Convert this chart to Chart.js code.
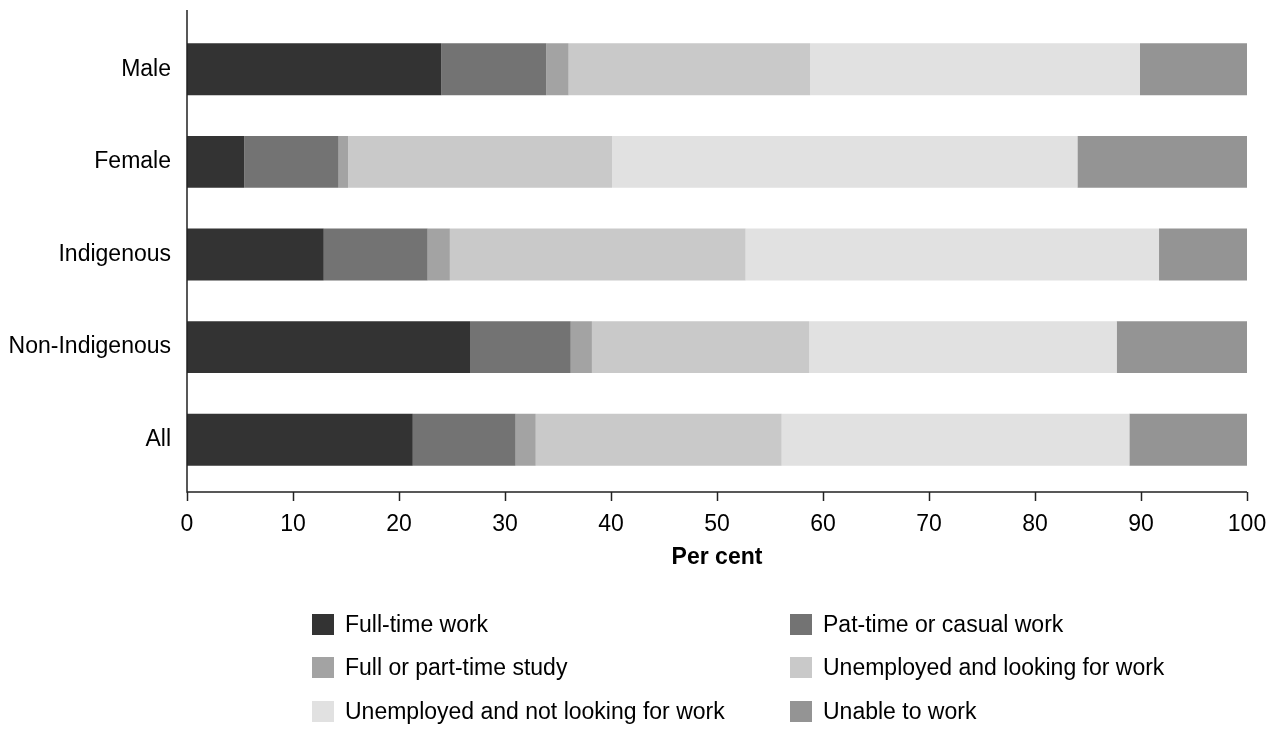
<!DOCTYPE html>
<html>
<head>
<meta charset="utf-8">
<script src="https://cdn.jsdelivr.net/npm/chart.js@4"></script>
<style>
  html, body { margin: 0; padding: 0; background: #fff; }
  #wrap { position: relative; width: 1267px; height: 729px; }
  #legend { position: absolute; left: 0; top: 0; width: 100%; height: 100%; pointer-events: none;
            font-family: "Liberation Sans", Arial, sans-serif; font-size: 23px; color: #000; }
  .item { position: absolute; height: 22px; line-height: 22px; white-space: nowrap; }
  .item .box { position: absolute; left: 0; top: 0; width: 22px; height: 21px; }
  .item .txt { position: absolute; left: 33px; top: -1px; }
</style>
</head>
<body>
<div id="wrap">
  <canvas id="chart" width="1267" height="729"></canvas>
  <div id="legend"></div>
</div>
<script>
// ---- data ----
const groups = ["Male", "Female", "Indigenous", "Non-Indigenous", "All"];

const fullTime      = [24.0,  5.4, 12.9, 26.7, 21.3];
const partTime      = [ 9.9,  8.9,  9.8,  9.5,  9.7];
const study         = [ 2.1,  0.9,  2.1,  2.0,  1.9];
const unempLooking  = [22.8, 24.9, 27.9, 20.5, 23.2];
const unempNotLook  = [31.1, 43.9, 39.0, 29.0, 32.8];
const unableToWork  = [10.1, 16.0,  8.3, 12.3, 11.1];

const xTicks = [0, 10, 20, 30, 40, 50, 60, 70, 80, 90, 100];

const FONT = "'Liberation Sans', Arial, sans-serif";

// axis lines drawn a bit outside the plot box, like the original
const axisLinesPlugin = {
  id: "axisLines",
  afterDraw(chart) {
    const { ctx, chartArea, scales } = chart;
    const x = scales.x;
    const yBase = chartArea.bottom + 6;
    ctx.save();
    ctx.strokeStyle = "#222";
    ctx.lineWidth = 1.5;
    ctx.beginPath();
    ctx.moveTo(chartArea.left, chartArea.top - 13);
    ctx.lineTo(chartArea.left, yBase);
    ctx.lineTo(chartArea.right, yBase);
    ctx.stroke();
    xTicks.forEach(v => {
      const px = Math.round(x.getPixelForValue(v)) + 0.5;
      ctx.beginPath();
      ctx.moveTo(px, yBase);
      ctx.lineTo(px, yBase + 9);
      ctx.stroke();
    });
    ctx.restore();
  }
};

const series = [
  { label: "Full-time work", data: fullTime, color: "#333333" },
  { label: "Pat-time or casual work", data: partTime, color: "#737373" },
  { label: "Full or part-time study", data: study, color: "#a3a3a3" },
  { label: "Unemployed and looking for work", data: unempLooking, color: "#c9c9c9" },
  { label: "Unemployed and not looking for work", data: unempNotLook, color: "#e1e1e1" },
  { label: "Unable to work", data: unableToWork, color: "#949494" }
];

const chart = new Chart(document.getElementById("chart").getContext("2d"), {
  type: "bar",
  data: {
    labels: groups,
    datasets: series.map(s => ({
      label: s.label,
      data: s.data,
      backgroundColor: s.color,
      borderWidth: 0,
      categoryPercentage: 1,
      barPercentage: 0.56
    }))
  },
  options: {
    indexAxis: "y",
    responsive: false,
    animation: false,
    layout: { padding: { top: 23, right: 20, bottom: 158, left: 0 } },
    plugins: {
      legend: { display: false },
      tooltip: { enabled: false }
    },
    scales: {
      x: {
        stacked: true,
        min: 0,
        max: 100,
        afterBuildTicks: s => { s.ticks = xTicks.map(v => ({ value: v })); },
        afterFit: s => { s.height = 85; s.paddingLeft = 0; s.paddingRight = 0; },
        grid: { display: false, drawTicks: false },
        border: { display: false },
        ticks: { padding: 25, color: "#000", maxRotation: 0, font: { family: FONT, size: 23 } },
        title: {
          display: true,
          text: "Per cent",
          color: "#000",
          padding: { top: 8, bottom: 0 },
          font: { family: FONT, size: 23, weight: "bold" }
        }
      },
      y: {
        stacked: true,
        grid: { display: false, drawTicks: false },
        border: { display: false },
        afterFit: s => { s.width = 187; s.paddingTop = 0; s.paddingBottom = 0; },
        ticks: { padding: 16, color: "#000", font: { family: FONT, size: 23 } }
      }
    }
  },
  plugins: [axisLinesPlugin]
});

// ---- legend, 2 columns x 3 rows ----
const legend = document.getElementById("legend");
const colX = [312, 790];
const rowY = [614, 657, 701];
chart.data.datasets.forEach((ds, i) => {
  const el = document.createElement("div");
  el.className = "item";
  el.style.left = colX[i % 2] + "px";
  el.style.top = rowY[Math.floor(i / 2)] + "px";
  el.innerHTML = `<span class="box" style="background:${ds.backgroundColor}"></span><span class="txt">${ds.label}</span>`;
  legend.appendChild(el);
});
</script>
</body>
</html>
